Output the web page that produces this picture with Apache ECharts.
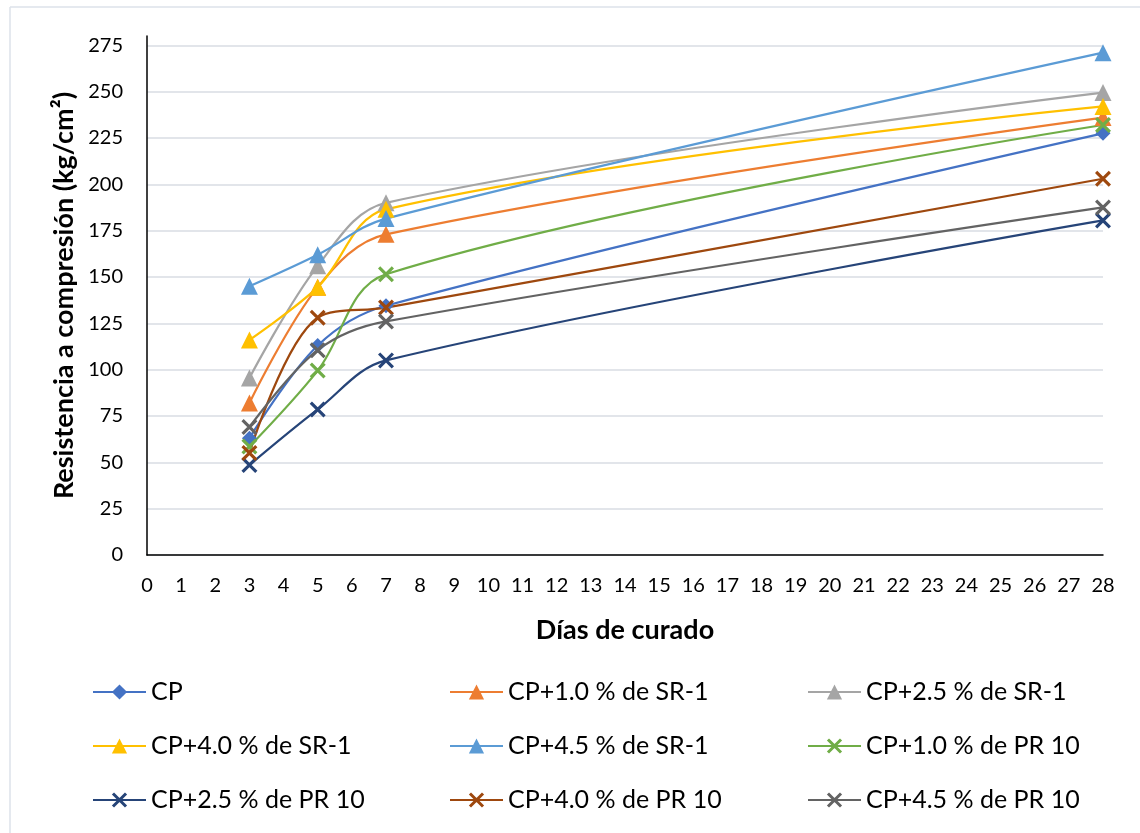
<!DOCTYPE html>
<html>
<head>
<meta charset="utf-8">
<script src="https://cdn.jsdelivr.net/npm/echarts@6/dist/echarts.min.js"></script>
<style>html,body{margin:0;padding:0;background:#fff;}#c{width:1140px;height:833px;}</style>
</head>
<body>
<div id="c"></div>
<script>
const days = [3, 5, 7, 28];
const seriesNames = [
  'CP', 'CP+1.0 % de SR-1', 'CP+2.5 % de SR-1',
  'CP+4.0 % de SR-1', 'CP+4.5 % de SR-1', 'CP+1.0 % de PR 10',
  'CP+2.5 % de PR 10', 'CP+4.0 % de PR 10', 'CP+4.5 % de PR 10'
];
const cp   = [63, 113, 134.5, 227.5];
const sr10 = [82, 144.5, 173, 236];
const sr25 = [95.5, 156, 190, 249.5];
const sr40 = [116, 144.5, 186.5, 242];
const sr45 = [145, 162, 181.5, 271];
const pr10 = [58.5, 99.5, 151.5, 232];
const pr25 = [48.5, 78.5, 105, 180.5];
const pr40 = [55, 128, 133.5, 203];
const pr45 = [69, 110.5, 126, 187.5];
const yTicks = [0, 25, 50, 75, 100, 125, 150, 175, 200, 225, 250, 275];
const xTicks = [0,1,2,3,4,5,6,7,8,9,10,11,12,13,14,15,16,17,18,19,20,21,22,23,24,25,26,27,28];

const allValues = [cp, sr10, sr25, sr40, sr45, pr10, pr25, pr40, pr45];
const colors = ['#4472C4', '#ED7D31', '#A5A5A5', '#FFC000', '#5B9BD5', '#70AD47', '#264478', '#9E480E', '#636363'];
const X = 'path://M0,1.4L1.4,0L10,8.6L8.6,10Z M8.6,0L10,1.4L1.4,10L0,8.6Z';
const symbols = ['diamond', 'triangle', 'triangle', 'triangle', 'triangle', X, X, X, X];
const sizes = [15, 17, 17, 17, 17, 16, 16, 16, 16];
const FONT = 'Lato';

const series = allValues.map((vals, i) => ({
  name: seriesNames[i],
  type: 'line',
  smooth: 0.35,
  data: days.map((d, k) => [d, vals[k]]),
  symbol: symbols[i],
  symbolSize: sizes[i],
  showAllSymbol: true,
  lineStyle: { color: colors[i], width: 2.2 },
  itemStyle: { color: colors[i] },
  emphasis: { disabled: true },
  z: 2
}));

const legendCommon = {
  orient: 'vertical',
  itemWidth: 53,
  itemHeight: 19,
  itemGap: 24,
  textStyle: { fontFamily: FONT, fontSize: 25, color: '#000', lineHeight: 30, padding: [0, 0, 0, 0] },
  padding: 0,
  selectedMode: false
};
const cols = [[0, 3, 6], [1, 4, 7], [2, 5, 8]];
const colLeft = [92, 449, 807];
const legends = cols.map((c, j) => Object.assign({}, legendCommon, {
  left: colLeft[j],
  top: 677,
  data: c.map(i => seriesNames[i])
}));

const chart = echarts.init(document.getElementById('c'));
chart.setOption({
  animation: false,
  backgroundColor: '#fff',
  color: colors,
  grid: { left: 147, right: 37, top: 36, bottom: 278, containLabel: false },
  legend: legends,
  xAxis: {
    type: 'value', min: 0, max: 28, interval: 1,
    name: 'Días de curado', nameLocation: 'middle', nameGap: 62,
    nameTextStyle: { fontFamily: FONT, fontSize: 27, fontWeight: 'bold', color: '#000' },
    axisLine: { show: true, lineStyle: { color: '#000', width: 1.5 } },
    axisTick: { show: false },
    splitLine: { show: false },
    axisLabel: {
      fontFamily: FONT, fontSize: 20, color: '#000', margin: 21,
      formatter: v => xTicks.indexOf(v) >= 0 ? String(v) : ''
    }
  },
  yAxis: {
    type: 'value', min: 0, max: 280, interval: 25,
    name: 'Resistencia a compresión (kg/cm²)', nameLocation: 'middle', nameGap: 66, nameRotate: 90,
    nameTextStyle: { fontFamily: FONT, fontSize: 27, fontWeight: 'bold', color: '#000' },
    axisLine: { show: true, lineStyle: { color: '#000', width: 1.5 } },
    axisTick: { show: false },
    splitLine: { show: true, showMaxLine: false, lineStyle: { color: '#D9DDE3', width: 1.5 } },
    axisLabel: {
      fontFamily: FONT, fontSize: 20, color: '#000', margin: 24, showMaxLabel: false,
      formatter: v => yTicks.indexOf(v) >= 0 ? String(v) : ''
    }
  },
  graphic: [
    { type: 'line', shape: { x1: 10, y1: 7, x2: 1140, y2: 7 }, style: { stroke: '#DDE2EA', lineWidth: 1.5 }, silent: true },
    { type: 'line', shape: { x1: 10, y1: 7, x2: 10, y2: 833 }, style: { stroke: '#DDE2EA', lineWidth: 1.5 }, silent: true }
  ],
  series: series
});
</script>
</body>
</html>
